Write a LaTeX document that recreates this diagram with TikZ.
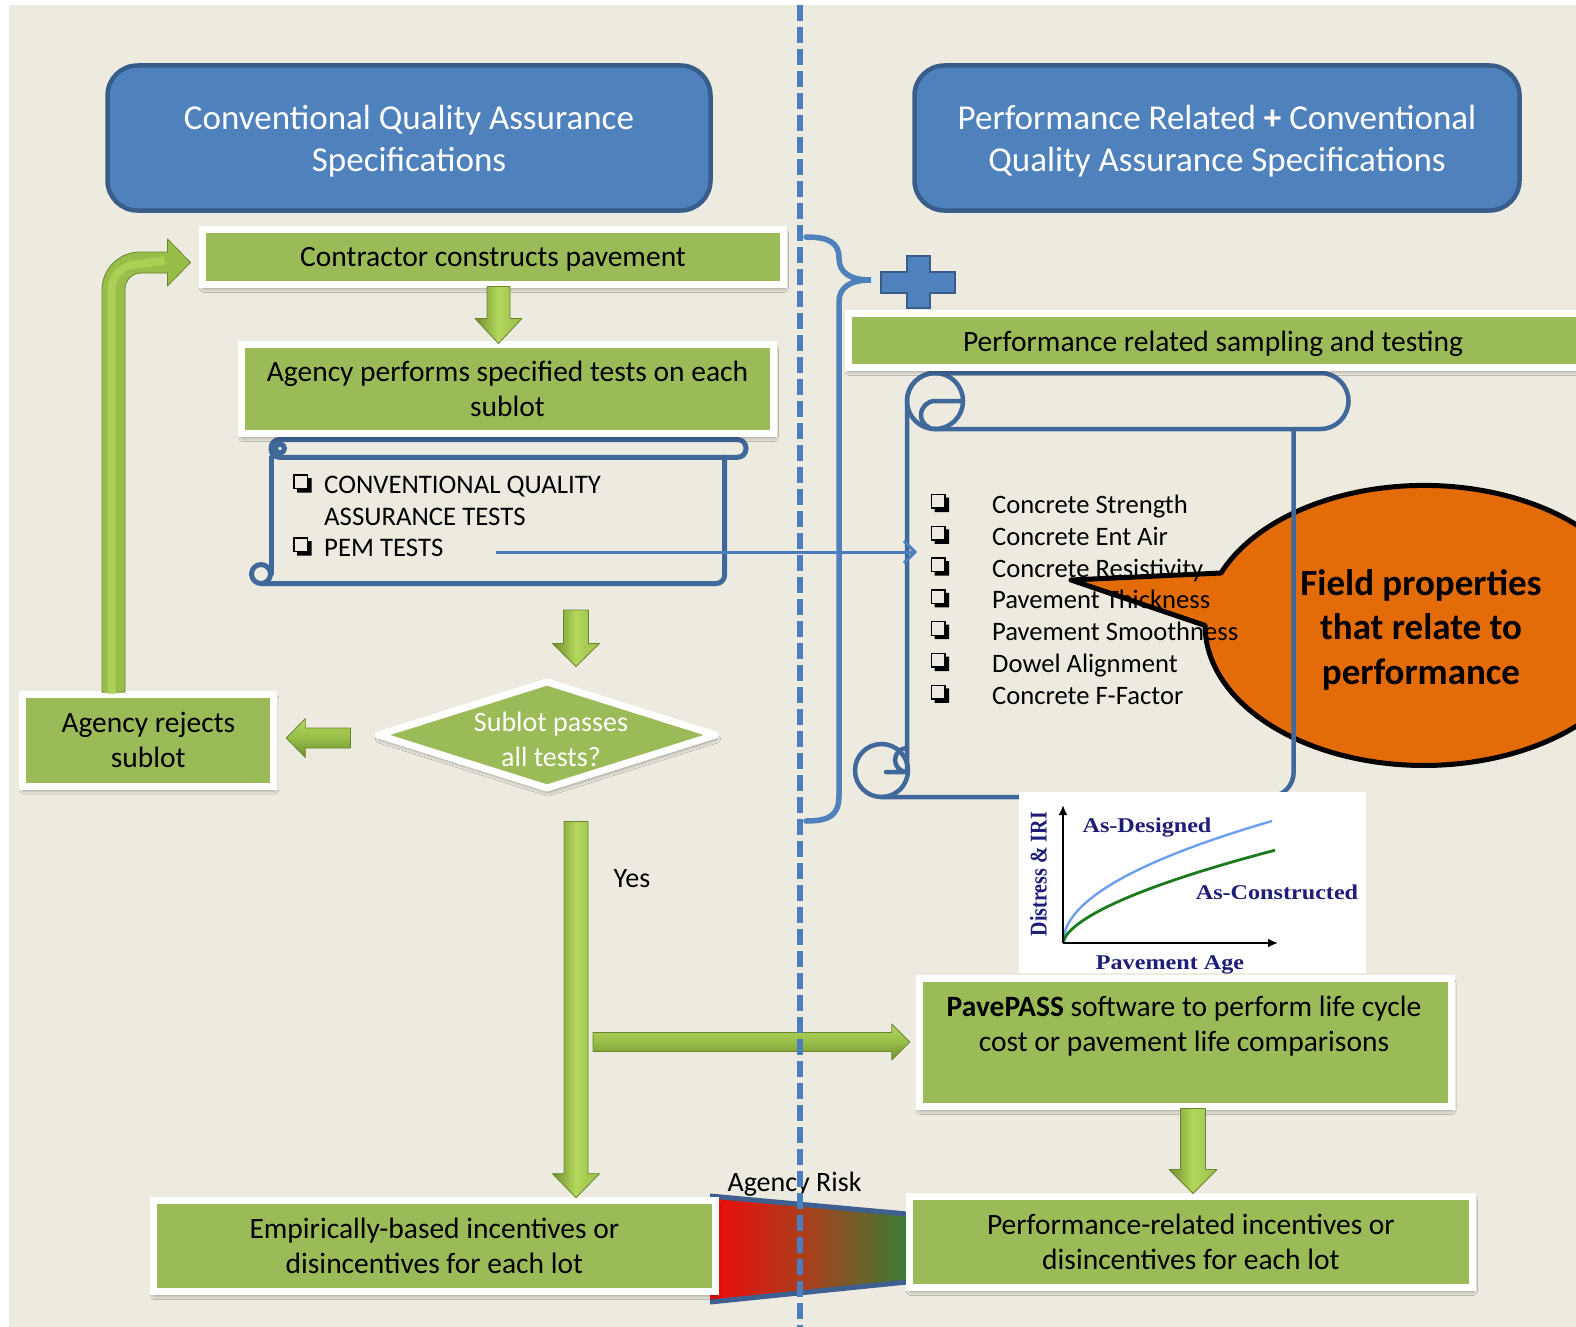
\documentclass[tikz,border=0pt]{standalone}
\usepackage{fontspec}
\usepackage{graphicx}
\setmainfont{Carlito}
\newfontfamily\graphfont{Liberation Serif}
\usetikzlibrary{shadows,shadows.blur,arrows.meta,calc,shapes.geometric}

\definecolor{bgbeige}{HTML}{EDEBE0}
\definecolor{hdrblue}{HTML}{4F81BD}
\definecolor{hdrborder}{HTML}{385D8A}
\definecolor{boxgreen}{HTML}{9BBB59}
\definecolor{scrollblue}{HTML}{41689A}
\definecolor{linkblue}{HTML}{4A7EBD}
\definecolor{calloutorange}{HTML}{E36C09}
\definecolor{arrowlight}{HTML}{B4D75C}
\definecolor{arrowmid}{HTML}{98BD48}
\definecolor{arrowdark}{HTML}{6F8F2E}
\definecolor{arrowedge}{HTML}{6A852E}
\definecolor{graphnavy}{HTML}{1E1E78}
\definecolor{designblue}{HTML}{6E9EEE}
\definecolor{builtgreen}{HTML}{1B7A1B}
\definecolor{riskred}{HTML}{F00A0A}
\definecolor{riskmid}{HTML}{A8401C}
\definecolor{riskgreen}{HTML}{3A7D36}
\definecolor{riskedge}{HTML}{3E5F8F}

% vertical 3D block arrow: start, tip, head length, shaft half width, head half width
\newcommand\vgarrow[5]{%
  \shadedraw[varrow] let \p1=#1, \p2=#2 in
    (\x1-#4,\y1) -- (\x1+#4,\y1) -- (\x1+#4,\y2+#3) -- (\x1+#5,\y2+#3) -- (\x1,\y2)
    -- (\x1-#5,\y2+#3) -- (\x1-#4,\y2+#3) -- cycle;}
% horizontal 3D block arrow: start, tip, head length, shaft half height, head half height
\newcommand\hgarrow[5]{%
  \shadedraw[harrow] let \p1=#1, \p2=#2, \n1={ifthenelse(\x2>\x1,-1,1)} in
    (\x1,\y1+#4) -- (\x2+\n1*#3,\y1+#4) -- (\x2+\n1*#3,\y1+#5) -- (\x2,\y1)
    -- (\x2+\n1*#3,\y1-#5) -- (\x2+\n1*#3,\y1-#4) -- (\x1,\y1-#4) -- cycle;}

\tikzset{
  qbox/.pic={
    \draw[line width=1.4pt] (-8.5,-8.5) rectangle (5,5);
    \fill (5,-5.5) -- (9,-5.5) -- (9,9) -- (-5.5,9) -- (-5.5,5) -- (5,5) -- cycle;
  },
}

\begin{document}
\begin{tikzpicture}[x=1pt,y=-1pt,
  hdr/.style={draw=hdrborder, line width=4.5pt, fill=hdrblue, rounded corners=30pt,
    text=white, font=\fontsize{35}{42}\selectfont, align=center, inner sep=0pt},
  gbox/.style={draw=white, line width=7pt, fill=boxgreen, align=center, inner sep=0pt,
    font=\fontsize{29.5}{35}\selectfont,
    blur shadow={shadow xshift=1pt, shadow yshift=-4pt, shadow blur radius=4pt,
      shadow blur steps=6, shadow opacity=40}},
  lbl/.style={font=\fontsize{29.5}{35}\selectfont, align=center, inner sep=0pt},
  listtxt/.style={font=\fontsize{26.6}{31}\selectfont, anchor=base west, inner sep=0pt},
  gtxt/.style={font=\graphfont\bfseries\fontsize{21}{21}\selectfont, text=graphnavy, inner sep=0pt},
  varrow/.style={left color=arrowdark, right color=arrowmid, middle color=arrowlight,
    draw=arrowedge, line width=0.8pt, line join=round},
  harrow/.style={top color=arrowlight, bottom color=arrowdark, middle color=arrowmid,
    draw=arrowedge, line width=0.8pt, line join=round},
]
\path[use as bounding box] (0,0) rectangle (1576,1327);
\clip (0,0) rectangle (1576,1327);
\fill[white] (0,0) rectangle (1576,1327);
\fill[bgbeige] (9,5) rectangle (1576,1327);

% speech callout behind the property list
\filldraw[fill=calloutorange, draw=black, line width=5pt, line join=round]
  (1221,573) arc[start angle=202, end angle=540, x radius=219, y radius=140]
  -- (1071,580) -- cycle;
\node[font=\bfseries\fontsize{37}{44.5}\selectfont, align=center, inner sep=0pt]
  (fieldprops) at (1421,629.5) {Field properties\\that relate to\\performance};

% vertical scroll holding the field properties
\begin{scope}[draw=scrollblue, line width=4.5pt, line cap=round, line join=round]
  \draw (907,771) -- (907,401) arc[start angle=180,end angle=270,radius=28]
    -- (1320.5,373) arc[start angle=270,end angle=450,radius=28] -- (935,429);
  \draw (935,401) circle[radius=28];
  \draw (935,429) arc[start angle=90,end angle=270,radius=14] -- (961,401);
  \draw (1293.7,429) -- (1293.7,772) arc[start angle=0,end angle=90,radius=25] -- (881.5,797);
  \draw (881.5,770.5) circle[radius=26.5];
  \draw (907,748) arc[start angle=270,end angle=90,radius=12] -- (886,772);
\end{scope}

% performance curve chart
\fill[white] (1019,791.5) rectangle (1366,973);
\coordinate (origin) at (1063,943);
\coordinate (yend) at (1063,805);
\coordinate (xend) at (1278,943);
\draw[designblue, line width=2.4pt] plot[domain=0.01:209, samples=80] ({1063+\x},{943-8.44*sqrt(\x)});
\draw[builtgreen, line width=2.8pt] plot[domain=0.01:212, samples=80] ({1063+\x},{943-3.73*(\x)^0.6});
\draw[line width=2.6pt, -{Latex[length=10pt,width=9pt]}] (origin) -- (yend);
\draw[line width=2.6pt, -{Latex[length=10pt,width=9pt]}] (origin) -- (xend);
\node[gtxt] (asdesigned) at (1147,828) {\scalebox{1.15}[1]{As-Designed}};
\node[gtxt] (asbuilt) at (1277,892) {\scalebox{1.15}[1]{As-Constructed}};
\node[gtxt] (agelabel) at (1170,964.5) {\scalebox{1.15}[1]{Pavement Age}};
\node[gtxt, font=\graphfont\bfseries\fontsize{20}{20}\selectfont, rotate=90] (distlabel) at (1038.5,874) {\scalebox{1}[1.2]{Distress \& IRI}};

% property list
\foreach \txt [count=\i from 0] in {Concrete Strength, Concrete Ent Air, Concrete Resistivity,
    Pavement Thickness, Pavement Smoothness, Dowel Alignment, Concrete F-Factor} {
  \pgfmathsetmacro\yy{505+31.8*\i}
  \pic at (940,\yy-2) {qbox};
  \node[listtxt] (prop\i) at (992,\yy+8.5) {\txt};
}

% horizontal scroll holding the conventional tests
\begin{scope}[draw=scrollblue, line width=5pt, line cap=round, line join=round]
  \draw[rounded corners=8.5pt] (271,439.5) rectangle (746,457.3);
  \draw (271,457.3) -- (271,574);
  \draw (724.6,457.3) -- (724.6,575) arc[start angle=0,end angle=90,radius=8.5] -- (261,583.5);
  \draw (261,574) circle[radius=9.5];
  \draw (280,448.5) circle[radius=4.5];
\end{scope}
\pic at (302.5,483.5) {qbox};
\node[listtxt, font=\fontsize{26.8}{31}\selectfont] (cqt1) at (324,493.5) {CONVENTIONAL QUALITY};
\node[listtxt, font=\fontsize{26.8}{31}\selectfont] (cqt2) at (324,525.5) {ASSURANCE TESTS};
\pic at (302.5,546.5) {qbox};
\node[listtxt, font=\fontsize{26.8}{31}\selectfont] (pemtests) at (324,556.5) {PEM TESTS};

% brace and plus sign
\draw[hdrblue, line width=5.5pt, line cap=round]
  (806,237) .. controls (829,237) and (839,243) .. (839,258)
  .. controls (839,272) and (849,280) .. (871,280)
  .. controls (849,280) and (839,288) .. (839,302)
  -- (839,795) .. controls (839,815) and (830,821) .. (806,821);
\draw[fill=hdrblue, draw=hdrborder, line width=2.5pt]
  (907,256) -- (930,256) -- (930,272) -- (955,272) -- (955,293) -- (930,293)
  -- (930,308) -- (907,308) -- (907,293) -- (881,293) -- (881,272) -- (907,272) -- cycle;

% headers
\node[hdr, minimum width=603pt, minimum height=145pt, text depth=0pt] (cqahdr) at (409,138)
  {Conventional Quality Assurance\\Specifications};
\node[hdr, minimum width=605pt, minimum height=145pt, text depth=0pt] (prshdr) at (1217,138)
  {Performance Related \textbf{+} Conventional\\Quality Assurance Specifications};

% agency risk wedge
\shade[left color=riskred, right color=riskgreen, middle color=riskmid]
  (710,1196) -- (907,1214) -- (907,1282) -- (710,1302) -- cycle;
\draw[riskedge, line width=5pt] (710,1196) -- (907,1214);
\draw[riskedge, line width=5pt] (710,1302) -- (907,1282);

% process boxes
\node[gbox, minimum width=581pt, minimum height=55pt, text depth=0pt] (construct) at (493,257)
  {Contractor constructs pavement};
\node[gbox, minimum width=532pt, minimum height=89pt] (tests) at (507.5,389)
  {Agency performs specified tests on each\\sublot};
\node[gbox, minimum width=251pt, minimum height=92pt] (reject) at (148.3,740)
  {Agency rejects\\sublot};
\node[gbox, diamond, line join=round, minimum width=340pt, minimum height=109pt] (passes) at (547,735) {};
\node[lbl, text=white, font=\fontsize{28}{35}\selectfont] (passestext) at (551,739) {Sublot passes\\all tests?};
\node[gbox, minimum width=562pt, minimum height=91pt] (empirical) at (434.4,1246)
  {Empirically-based incentives or\\disincentives for each lot};
\node[gbox, minimum width=563pt, minimum height=91pt] (princent) at (1190.9,1242)
  {Performance-related incentives or\\disincentives for each lot};
\node[gbox, minimum width=532pt, minimum height=128pt] (pavepass) at (1185,1042.5) {};
\node[lbl] (pavepasstext) at (1184,1026)
  {\textbf{PavePASS} software to perform life cycle\\cost or pavement life comparisons};
\node[gbox, minimum width=760pt, minimum height=53.6pt, anchor=west] (sampling) at (844.5,340.6) {};
\node[lbl, text depth=0pt] (samplingtext) at (1213,341) {Performance related sampling and testing};

\node[lbl, font=\fontsize{28}{34}\selectfont] (yes) at (632,879) {Yes};
\node[lbl, font=\fontsize{28}{34}\selectfont] (risk) at (794.5,1184) {Agency Risk};

% flow arrows
\coordinate (testsout) at (576,610);
\coordinate (yesbranch) at (593,1042);
\vgarrow{([xshift=5.5pt,yshift=1.5pt]construct.south)}{([yshift=-2.5pt]tests.north)}{25pt}{11.5pt}{23.5pt}
\vgarrow{(testsout)}{([xshift=29pt,yshift=10.5pt]passes.north)}{23pt}{12.5pt}{23.5pt}
\hgarrow{([xshift=-23pt,yshift=-3pt]passes.west)}{([xshift=9pt]reject.east)}{19pt}{10pt}{19.5pt}
\vgarrow{([xshift=29pt,yshift=-28.5pt]passes.south)}{([yshift=-0.7pt]empirical.north)}{24pt}{12pt}{23.5pt}
\hgarrow{(yesbranch)}{([xshift=-5.7pt]pavepass.west)}{18pt}{9.5pt}{18pt}
\vgarrow{([xshift=8pt,yshift=1.5pt]pavepass.south)}{([yshift=-0.5pt]princent.north)}{24pt}{12.5pt}{24pt}

% return arrow from rejection back to construction
\filldraw[fill=arrowmid, draw=arrowedge, line width=0.8pt, line join=round]
  let \p1=([xshift=-34.8pt,yshift=-1.7pt]reject.north), \p2=([xshift=-8.5pt,yshift=-5.5pt]construct.west) in
  (\x1-11.5pt,\y1) -- (\x1-11.5pt,\y2-27.5pt) arc[start angle=180,end angle=90,radius=38pt]
  -- (\x2-23pt,\y2+10.5pt) -- (\x2-23pt,\y2+23.5pt) -- (\x2,\y2) -- (\x2-23pt,\y2-23.5pt)
  -- (\x2-23pt,\y2-10.5pt) -- (\x1+27.5pt,\y2-10.5pt) arc[start angle=90,end angle=180,radius=16pt]
  -- (\x1+11.5pt,\y1) -- cycle;
\draw[arrowlight, line width=8pt, opacity=0.75]
  let \p1=([xshift=-34.8pt,yshift=-1.7pt]reject.north), \p2=([xshift=-8.5pt,yshift=-5.5pt]construct.west) in
  (\x1-2pt,\y1-2pt) -- (\x1-2pt,\y2-27pt) arc[start angle=180,end angle=90,radius=25pt] -- (\x2-26pt,\y2+2pt);

% link from PEM tests to the property list
\coordinate (pemstart) at (496,552);
\coordinate (listentry) at (917,552);
\draw[linkblue, line width=3pt, -{Straight Barb[length=11pt,width=22pt]}] (pemstart) -- (listentry);

% divider between the two specification types
\coordinate (divtop) at (800,5);
\coordinate (divbot) at (800,1327);
\draw[linkblue, line width=5.5pt, dash pattern=on 16pt off 6pt] (divtop) -- (divbot);
\end{tikzpicture}
\end{document}
